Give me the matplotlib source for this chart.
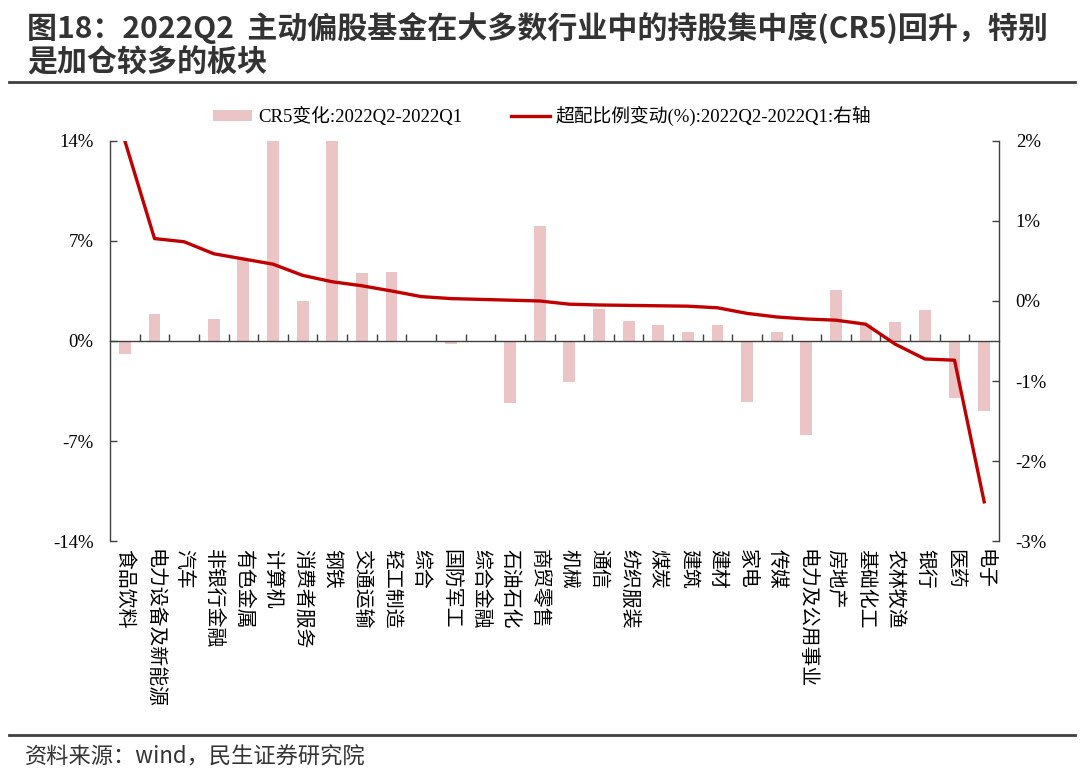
import matplotlib
matplotlib.use("Agg")
import matplotlib.pyplot as plt
from matplotlib.lines import Line2D
from matplotlib.ticker import FuncFormatter
import numpy as np

plt.rcParams['font.family'] = ['Liberation Serif', 'Noto Sans CJK SC', 'DejaVu Sans']

categories = ["食品饮料", "电力设备及新能源", "汽车", "非银行金融", "有色金属", "计算机",
              "消费者服务", "钢铁", "交通运输", "轻工制造", "综合", "国防军工", "综合金融",
              "石油石化", "商贸零售", "机械", "通信", "纺织服装", "煤炭", "建筑", "建材",
              "家电", "传媒", "电力及公用事业", "房地产", "基础化工", "农林牧渔", "银行",
              "医药", "电子"]
cr5_change = [-0.9, 1.9, -0.1, 1.56, 5.72, 14.0, 2.8, 14.0, 4.74, 4.81, 0.0, -0.2, 0.0,
              -4.36, 8.05, -2.85, 2.22, 1.38, 1.12, 0.65, 1.12, -4.29, 0.61, -6.58, 3.57,
              1.12, 1.33, 2.15, -3.97, -4.88]
overweight_change = [2.0, 0.78, 0.74, 0.59, 0.525, 0.46, 0.32, 0.24, 0.19, 0.125, 0.055,
                     0.03, 0.02, 0.01, 0.0, -0.04, -0.05, -0.055, -0.06, -0.065, -0.085,
                     -0.155, -0.2, -0.225, -0.24, -0.29, -0.54, -0.725, -0.74, -2.51]
left_ticks = [-14, -7, 0, 7, 14]
right_ticks = [-3, -2, -1, 0, 1, 2]

title_line1 = "图18：2022Q2  主动偏股基金在大多数行业中的持股集中度(CR5)回升，特别"
title_line2 = "是加仓较多的板块"
source = "资料来源：wind，民生证券研究院"
bar_label = "CR5变化:2022Q2-2022Q1"
line_label = "超配比例变动(%):2022Q2-2022Q1:右轴"

bar_color = "#EBC4C5"
line_color = "#C00000"
axis_color = "#404040"
cjk_sans = ['Noto Sans CJK SC', 'DejaVu Sans']

fig = plt.figure(figsize=(10.8, 7.83), dpi=100)
ax = fig.add_axes([0.1019, 0.309, 0.8231, 0.511])
ax2 = ax.twinx()

x = np.arange(len(categories))
bars = ax.bar(x, cr5_change, width=0.4, color=bar_color, zorder=2, label=bar_label)
ax.set_xlim(-0.5, len(categories) - 0.5)
ax.set_ylim(-14, 14)
ax.set_yticks(left_ticks)
ax.yaxis.set_major_formatter(FuncFormatter(lambda v, p: f"{v:.0f}%"))

ln, = ax2.plot(x, overweight_change, color=line_color, lw=2.4, zorder=3, label=line_label)
ax2.set_ylim(-3, 2)
ax2.set_yticks(right_ticks)
ax2.yaxis.set_major_formatter(FuncFormatter(lambda v, p: f"{v:.0f}%"))

for s in ['top', 'right']:
    ax.spines[s].set_visible(False)
for s in ['top', 'bottom', 'left']:
    ax2.spines[s].set_visible(False)
ax.spines['bottom'].set_position(('data', 0))
for a, s in [(ax, 'left'), (ax, 'bottom'), (ax2, 'right')]:
    a.spines[s].set_color(axis_color)
    a.spines[s].set_linewidth(1.0)

ax.set_xticks(x[:-1] + 0.5)
ax.set_xticklabels([])
ax.tick_params(axis='x', direction='in', length=5, width=1, color=axis_color)
ax.tick_params(axis='y', direction='in', length=5, width=1, color=axis_color,
               labelsize=13.5, pad=12, labelcolor='#000000')
ax2.tick_params(axis='y', direction='in', length=5, width=1, color=axis_color,
                labelsize=13.5, pad=12, labelcolor='#000000')

trans = ax.get_xaxis_transform()
for xi, name in zip(x, categories):
    ax.text(xi, -0.02, name, transform=trans, rotation=270, ha='center', va='top',
            fontsize=14.3, family=cjk_sans, color='#000000')

fig.legend(handles=[bars, ln], labels=[bar_label, line_label], loc='center',
           bbox_to_anchor=(0.502, 0.852), ncol=2, frameon=False, fontsize=13.5,
           handlelength=2.1, handleheight=0.55, columnspacing=2.6, handletextpad=0.3)

fig.text(0.025, 1 - 28 / 783, title_line1, ha='left', va='center', fontsize=21.6,
         fontweight='bold', family=cjk_sans, color='#333333')
fig.text(0.025, 1 - 62 / 783, title_line2, ha='left', va='center', fontsize=21.6,
         fontweight='bold', family=cjk_sans, color='#333333')
fig.add_artist(Line2D([0.008, 0.995], [1 - 82 / 783, 1 - 82 / 783], transform=fig.transFigure,
                      color='#404040', lw=2))
fig.add_artist(Line2D([0.008, 0.995], [1 - 735 / 783, 1 - 735 / 783], transform=fig.transFigure,
                      color='#404040', lw=2))
fig.text(0.023, 1 - 757 / 783, source, ha='left', va='center', fontsize=16,
         family=cjk_sans, color='#333333')

fig.savefig("out.png", dpi=100)
